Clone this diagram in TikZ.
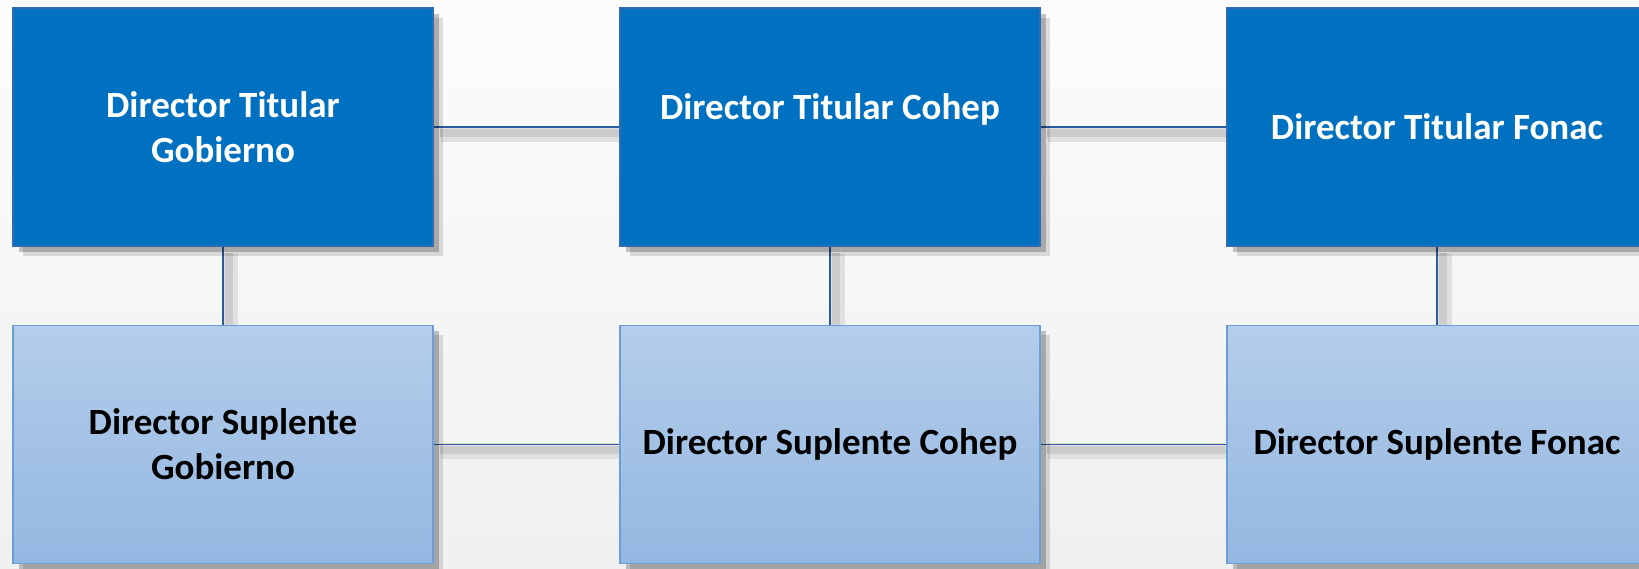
\documentclass[tikz,border=0pt]{standalone}
\usepackage{fontspec}
\setmainfont{Carlito}
\usetikzlibrary{shadows}

\definecolor{titblue}{HTML}{0070C0}
\definecolor{titedge}{HTML}{2E6DB4}
\definecolor{supltop}{HTML}{B4CDEA}
\definecolor{suplbot}{HTML}{94B7E1}
\definecolor{supledge}{HTML}{6D9DD6}
\definecolor{linkblue}{HTML}{2C5C9E}

\pgfdeclarelayer{paper}
\pgfdeclarelayer{links}
\pgfsetlayers{paper,links,main}

\begin{document}
\begin{tikzpicture}[x=0.5pt, y=0.5pt,
		boxtext/.style={inner sep=0pt, align=center, font=\bfseries\fontsize{18.5}{22.5}\selectfont},
		box/.style={boxtext, rectangle, minimum width=210pt, minimum height=119pt, line width=0.6pt,
			drop shadow={shadow xshift=5pt, shadow yshift=-5pt, fill=black, opacity=.12},
			drop shadow={shadow xshift=3pt, shadow yshift=-3pt, fill=black, opacity=.22}},
		titular/.style={box, fill=titblue, draw=titedge, text=white},
		suplente/.style={box, top color=supltop, bottom color=suplbot, draw=supledge, text=black},
		link/.style={draw=linkblue, line width=0.7pt,
			preaction={draw=black!12, line width=8pt, transform canvas={xshift=3.5pt, yshift=-3.5pt}},
			preaction={draw=black!20, line width=4pt, transform canvas={xshift=3pt, yshift=-3pt}}}]
	
	%paper
	\begin{pgfonlayer}{paper}
		\fill[top color=black!1, bottom color=black!6] (0,0) rectangle (1639,568);
	\end{pgfonlayer}
	\clip (0,0) rectangle (1639,568);
	
	%titulares
	\node[titular] (gobT) at (223, 441) {Director Titular\\Gobierno};
	\node[titular, label={[boxtext, text=white, name=cohTtext, yshift=9pt]center:Director Titular Cohep}] (cohT) at (830, 441) {};
	\node[titular] (fonT) at (1437, 441) {Director Titular Fonac};
	
	%suplentes
	\node[suplente] (gobS) at (223, 123.5) {Director Suplente\\Gobierno};
	\node[suplente] (cohS) at (830, 123.5) {Director Suplente Cohep};
	\node[suplente] (fonS) at (1437, 123.5) {Director Suplente Fonac};
	
	%links
	\begin{pgfonlayer}{links}
		\foreach \a/\b in {gobT/cohT, cohT/fonT, gobS/cohS, cohS/fonS, gobT/gobS, cohT/cohS, fonT/fonS}{
			\draw[link] (\a) -- (\b);
		}
	\end{pgfonlayer}
\end{tikzpicture}
\end{document}
